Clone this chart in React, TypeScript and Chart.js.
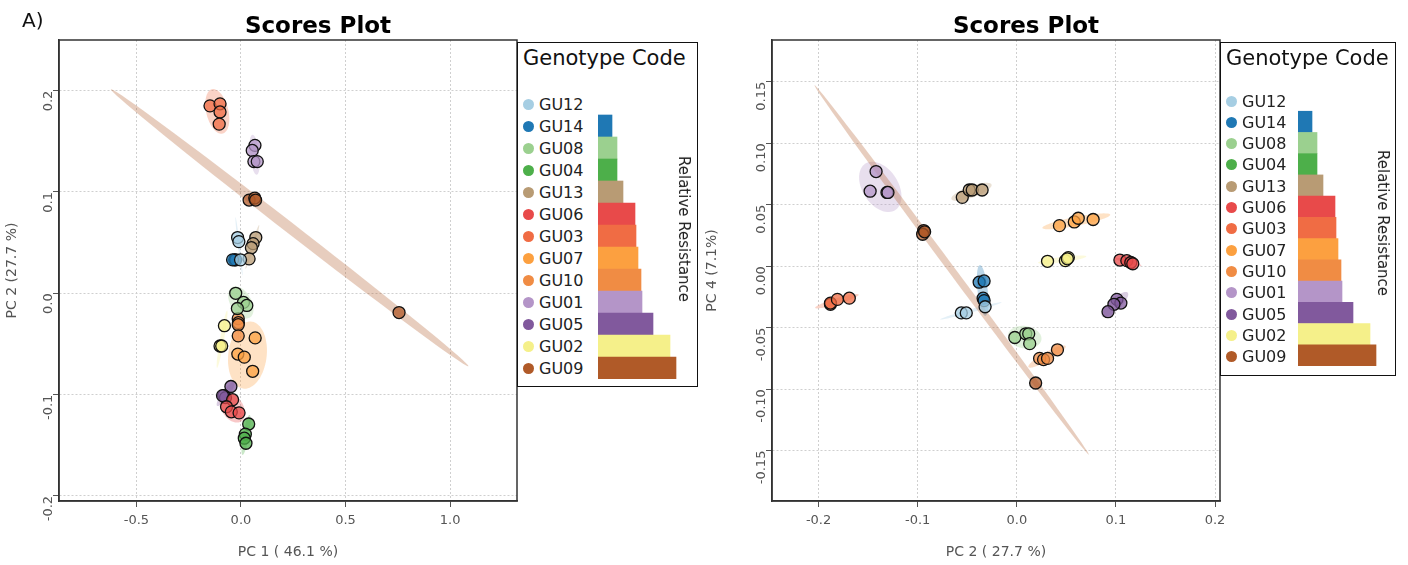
import React, { useEffect, useRef } from "react";
import { Chart, registerables } from "chart.js";
Chart.register(...registerables);

const genotypes = ["GU12","GU14","GU08","GU04","GU13","GU06","GU03","GU07","GU10","GU01","GU05","GU02","GU09"];
const colors = ["#a6cee3","#1f78b4","#9bd08f","#4daf4a","#b89b74","#e84a4a","#f06c44","#fca040","#f08c44","#b495c8","#81599d","#f5f08a","#b05a28"];
const resistance = [0,14,19,19,25,37,38,40,43,44,55,72,78];

// Plot 1: PC1 vs PC2
const p1x: Record<string, number[]> = {
  GU12: [-0.016,-0.01,-0.002],
  GU14: [-0.03,-0.025,-0.04],
  GU08: [-0.025,0.012,0.028,-0.017],
  GU04: [0.037,0.021,0.016,0.024],
  GU13: [0.071,0.058,0.05,0.039],
  GU06: [-0.04,-0.069,-0.046,-0.009],
  GU03: [-0.148,-0.1,-0.1,-0.104],
  GU07: [0.068,-0.015,0.016,0.056],
  GU10: [-0.013,-0.012,-0.013,-0.013],
  GU01: [0.067,0.054,0.062,0.078],
  GU05: [-0.048,-0.082,-0.074,-0.088],
  GU02: [-0.079,-0.1,-0.092],
  GU09: [0.039,0.066,0.07,0.756],
};
const p1y: Record<string, number[]> = {
  GU12: [0.055,0.051,0.033],
  GU14: [0.033,0.033,0.033],
  GU08: [0.0,-0.009,-0.012,-0.015],
  GU04: [-0.129,-0.139,-0.143,-0.148],
  GU13: [0.055,0.049,0.045,0.034],
  GU06: [-0.105,-0.112,-0.117,-0.118],
  GU03: [0.185,0.187,0.179,0.167],
  GU07: [-0.044,-0.06,-0.063,-0.077],
  GU10: [-0.025,-0.029,-0.031,-0.042],
  GU01: [0.146,0.141,0.13,0.13],
  GU05: [-0.092,-0.101,-0.103,-0.101],
  GU02: [-0.032,-0.052,-0.052],
  GU09: [0.092,0.094,0.092,-0.019],
};
// Plot 2: PC2 vs PC4
const p2x: Record<string, number[]> = {
  GU12: [-0.056,-0.051,-0.032],
  GU14: [-0.038,-0.033,-0.034,-0.033],
  GU08: [-0.002,0.009,0.012,0.013],
  GU13: [-0.055,-0.048,-0.045,-0.035],
  GU06: [0.104,0.111,0.115,0.117],
  GU03: [-0.188,-0.188,-0.181,-0.169],
  GU07: [0.043,0.058,0.062,0.077],
  GU10: [0.023,0.027,0.031,0.041],
  GU01: [-0.142,-0.148,-0.131,-0.13],
  GU05: [0.101,0.105,0.098,0.092],
  GU02: [0.031,0.049,0.052,0.051],
  GU09: [-0.094,-0.095,-0.093,0.019],
};
const p2y: Record<string, number[]> = {
  GU12: [-0.038,-0.038,-0.033],
  GU14: [-0.013,-0.012,-0.026,-0.028],
  GU08: [-0.058,-0.055,-0.055,-0.063],
  GU13: [0.056,0.062,0.062,0.062],
  GU06: [0.005,0.0045,0.003,0.002],
  GU03: [-0.031,-0.03,-0.027,-0.026],
  GU07: [0.033,0.036,0.039,0.038],
  GU10: [-0.075,-0.076,-0.075,-0.068],
  GU01: [0.077,0.061,0.06,0.06],
  GU05: [-0.027,-0.03,-0.031,-0.037],
  GU02: [0.004,0.0045,0.007,0.006],
  GU09: [0.029,0.026,0.028,-0.095],
};
const p1Xticks = [-0.5,0,0.5,1.0];
const p1Yticks = [-0.2,-0.1,0,0.1,0.2];
const p2Xticks = [-0.2,-0.1,0,0.1,0.2];
const p2Yticks = [-0.15,-0.1,-0.05,0,0.05,0.1,0.15];

const FONT = "'DejaVu Sans', sans-serif";
const hexA = (h: string, a: number) => {
  const n = parseInt(h.slice(1), 16);
  return `rgba(${n >> 16},${(n >> 8) & 255},${n & 255},${a})`;
};

const ellipsePlugin = {
  id: "ellipses",
  beforeDatasetsDraw(chart: any) {
    const { ctx, chartArea, scales } = chart;
    ctx.save();
    ctx.beginPath();
    ctx.rect(chartArea.left, chartArea.top, chartArea.right - chartArea.left, chartArea.bottom - chartArea.top);
    ctx.clip();
    chart.data.datasets.forEach((ds: any) => {
      const pts = ds.data;
      const n = pts.length;
      if (n < 3) return;
      const mx = pts.reduce((s: number, p: any) => s + p.x, 0) / n;
      const my = pts.reduce((s: number, p: any) => s + p.y, 0) / n;
      let a = 0, b = 0, c = 0;
      pts.forEach((p: any) => { a += (p.x - mx) ** 2; b += (p.x - mx) * (p.y - my); c += (p.y - my) ** 2; });
      a /= n - 1; b /= n - 1; c /= n - 1;
      const tr = a + c, det = a * c - b * b;
      const disc = Math.sqrt(Math.max(0, tr * tr / 4 - det));
      const l1 = tr / 2 + disc, l2 = Math.max(0, tr / 2 - disc);
      const th = Math.abs(b) < 1e-14 ? (a >= c ? 0 : Math.PI / 2) : Math.atan2(l1 - a, b);
      const k = 2.45;
      const r1 = k * Math.sqrt(l1), r2 = k * Math.sqrt(l2);
      ctx.beginPath();
      for (let i = 0; i <= 72; i++) {
        const t = (i / 72) * Math.PI * 2;
        const ex = r1 * Math.cos(t), ey = r2 * Math.sin(t);
        const x = mx + ex * Math.cos(th) - ey * Math.sin(th);
        const y = my + ex * Math.sin(th) + ey * Math.cos(th);
        const px = scales.x.getPixelForValue(x), py = scales.y.getPixelForValue(y);
        if (i === 0) ctx.moveTo(px, py); else ctx.lineTo(px, py);
      }
      ctx.closePath();
      ctx.fillStyle = hexA(ds.baseColor, 0.3);
      ctx.fill();
    });
    ctx.restore();
  },
};

const framePlugin = {
  id: "frame",
  afterDraw(chart: any) {
    const { ctx, chartArea: c } = chart;
    ctx.save();
    ctx.strokeStyle = "#333";
    ctx.lineWidth = 1.5;
    ctx.strokeRect(c.left, c.top, c.right - c.left, c.bottom - c.top);
    ctx.restore();
  },
};

function Scatter({ xs, ys, xr, yr, xt, yt, xl, yl, yw, cw }: any) {
  const ref = useRef<HTMLCanvasElement>(null);
  useEffect(() => {
    const datasets = genotypes.filter((g) => xs[g]).map((g) => {
      const col = colors[genotypes.indexOf(g)];
      return {
        label: g,
        baseColor: col,
        data: xs[g].map((v: number, i: number) => ({ x: v, y: ys[g][i] })),
        backgroundColor: hexA(col, 0.75),
        borderColor: "#111",
        borderWidth: 1.3,
        pointRadius: 6,
      };
    });
    const tickCfg = (vals: number[]) => (axis: any) => { axis.ticks = vals.map((v) => ({ value: v })); };
    const twoDec = yt.some((t: number) => Math.abs(t * 10 - Math.round(t * 10)) > 1e-9);
    const chart = new Chart(ref.current!, {
      type: "scatter",
      data: { datasets: datasets as any },
      plugins: [ellipsePlugin, framePlugin],
      options: {
        animation: false,
        responsive: false,
        layout: { padding: { top: 40, right: 24, left: 0, bottom: 0 } },
        plugins: { legend: { display: false }, tooltip: { enabled: false } },
        scales: {
          x: {
            min: xr[0], max: xr[1],
            afterBuildTicks: tickCfg(xt),
            afterFit: (s: any) => { s.height = 64; },
            grid: { color: "#cfcfcf", lineWidth: 1, tickLength: 6, tickColor: "#555" } as any,
            border: { color: "#333", width: 1.5, dash: [2, 2] } as any,
            ticks: { color: "#555", font: { family: FONT, size: 13 }, padding: 6, callback: (v: any) => Number(v).toFixed(1) },
            title: { display: true, text: xl, color: "#555", font: { family: FONT, size: 14 }, padding: { top: 4 } },
          },
          y: {
            min: yr[0], max: yr[1],
            afterBuildTicks: tickCfg(yt),
            afterFit: (s: any) => { s.width = yw; },
            grid: { color: "#cfcfcf", lineWidth: 1, tickLength: 6, tickColor: "#555" } as any,
            border: { color: "#333", width: 1.5, dash: [2, 2] } as any,
            ticks: { color: "#555", font: { family: FONT, size: 13 }, minRotation: 90, maxRotation: 90, padding: 4,
              callback: (v: any) => Number(v).toFixed(twoDec ? 2 : 1) },
            title: { display: true, text: yl, color: "#555", font: { family: FONT, size: 14 } },
          },
        },
      },
    } as any);
    return () => chart.destroy();
  }, []);
  return <canvas ref={ref} width={cw} height={565} />;
}

function ResBars({ w, h }: any) {
  const ref = useRef<HTMLCanvasElement>(null);
  useEffect(() => {
    const chart = new Chart(ref.current!, {
      type: "bar",
      data: { labels: genotypes, datasets: [{ data: resistance.map((v) => (v > 0 ? v : null)), backgroundColor: colors, categoryPercentage: 1, barPercentage: 1, borderWidth: 0 }] },
      options: {
        animation: false, responsive: false, indexAxis: "y",
        layout: { padding: 0 },
        plugins: { legend: { display: false }, tooltip: { enabled: false } },
        scales: { x: { display: false, min: 0, max: 100 }, y: { display: false } },
      },
    } as any);
    return () => chart.destroy();
  }, []);
  return <canvas ref={ref} width={w} height={h} />;
}

function Legend({ left, top, width, height, rowTop, rowH, barLeft, rrX, rrY }: any) {
  return (
    <div style={{ position: "absolute", left, top, width, height, border: "1.5px solid #111", background: "#fff", boxSizing: "border-box", fontFamily: FONT }}>
      <div style={{ position: "absolute", left: 5, top: 3, fontSize: 21, color: "#111", whiteSpace: "nowrap" }}>Genotype Code</div>
      {genotypes.map((g, i) => (
        <div key={g} style={{ position: "absolute", left: 5, top: rowTop + i * rowH - 10, height: 20, display: "flex", alignItems: "center", fontSize: 16, color: "#222" }}>
          <span style={{ display: "inline-block", width: 11, height: 11, borderRadius: 6, background: colors[i], marginRight: 5 }} />
          {g}
        </div>
      ))}
      <div style={{ position: "absolute", left: barLeft, top: rowTop - rowH / 2 }}>
        <ResBars w={100} h={rowH * 13} />
      </div>
      <div style={{ position: "absolute", left: rrX, top: rrY, transform: "translate(-50%,-50%) rotate(90deg)", fontSize: 15, color: "#222", whiteSpace: "nowrap" }}>Relative Resistance</div>
    </div>
  );
}

export default function App() {
  return (
    <div style={{ position: "fixed", left: 0, top: 0, width: 1408, height: 565, background: "#fff", overflow: "hidden" }}>
      <div style={{ position: "absolute", left: 0, top: 0 }}>
        <Scatter xs={p1x} ys={p1y} xr={[-0.87, 1.32]} yr={[-0.205, 0.25]} xt={p1Xticks} yt={p1Yticks} xl="PC 1 ( 46.1 %)" yl="PC 2 (27.7 %)" yw={59} cw={541} />
      </div>
      <div style={{ position: "absolute", left: 700, top: 0 }}>
        <Scatter xs={p2x} ys={p2y} xr={[-0.247, 0.205]} yr={[-0.191, 0.184]} xt={p2Xticks} yt={p2Yticks} xl="PC 2 ( 27.7 %)" yl="PC 4 (7.1%)" yw={72} cw={544} />
      </div>
      <div style={{ position: "absolute", left: 22, top: 8, fontFamily: FONT, fontSize: 20, color: "#111" }}>A)</div>
      <div style={{ position: "absolute", left: 318, top: 12, transform: "translateX(-50%)", fontFamily: FONT, fontWeight: "bold", fontSize: 23, color: "#000", whiteSpace: "nowrap" }}>Scores Plot</div>
      <div style={{ position: "absolute", left: 1026, top: 12, transform: "translateX(-50%)", fontFamily: FONT, fontWeight: "bold", fontSize: 23, color: "#000", whiteSpace: "nowrap" }}>Scores Plot</div>
      <Legend left={517} top={42} width={181} height={345} rowTop={61} rowH={22} barLeft={80} rrX={166} rrY={186} />
      <Legend left={1220} top={42} width={176} height={334} rowTop={58} rowH={21.3} barLeft={77} rrX={162} rrY={180} />
    </div>
  );
}
